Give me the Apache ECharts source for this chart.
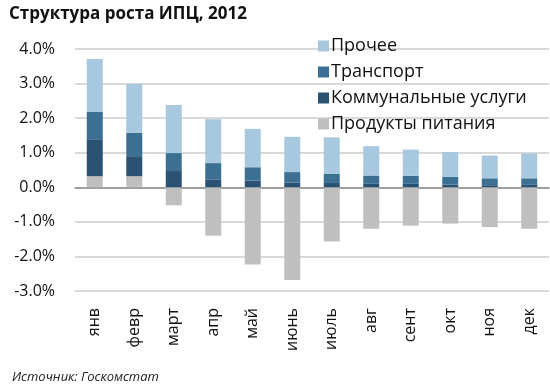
<!DOCTYPE html>
<html><head><meta charset="utf-8">
<script src="https://cdn.jsdelivr.net/npm/echarts@6/dist/echarts.min.js"></script>
<style>html,body{margin:0;padding:0;background:#fff}#c{width:550px;height:391px}</style>
</head><body><div id="c"></div>
<script>
const categories = ['янв','февр','март','апр','май','июнь','июль','авг','сент','окт','ноя','дек'];
const food      = [0.32, 0.32, -0.52, -1.40, -2.23, -2.68, -1.57, -1.20, -1.11, -1.05, -1.15, -1.20];
const communal  = [1.07, 0.58, 0.47, 0.23, 0.19, 0.14, 0.125, 0.10, 0.10, 0.08, 0.06, 0.07];
const transport = [0.79, 0.68, 0.52, 0.47, 0.39, 0.30, 0.27, 0.24, 0.23, 0.22, 0.20, 0.19];
const other     = [1.53, 1.41, 1.39, 1.27, 1.11, 1.02, 1.05, 0.85, 0.76, 0.72, 0.66, 0.72];
const yTicks = [-3, -2, -1, 0, 1, 2, 3, 4];
const names = ['Продукты питания','Коммунальные услуги','Транспорт','Прочее'];
const colors = ['#bfbfbf','#2c5273','#3c7093','#a7c8de'];
const FONT = '"Open Sans", Lato, sans-serif';

const chart = echarts.init(document.getElementById('c'), null, {renderer:'canvas'});
const mk = (name, data, color) => ({
  name, type:'bar', stack:'s', data, barWidth:16,
  itemStyle:{color}, emphasis:{disabled:true}
});
chart.setOption({
  animation:false,
  title:{text:'Структура роста ИПЦ, 2012', left:4, top:1,
    textStyle:{fontFamily:FONT, fontSize:17, fontWeight:'bold', color:'#111'}},
  graphic:[{type:'text', left:12, top:371,
    style:{text:'Источник: Госкомстат', font:'italic 13px '+FONT, fill:'#222'}}],
  legend:{
    data:[names[3],names[2],names[1],names[0]],
    orient:'vertical', left:313, top:32, itemGap:8, itemWidth:11, itemHeight:11,
    icon:'rect',
    textStyle:{fontFamily:FONT, fontSize:18, color:'#111', padding:[0,0,0,-3]}
  },
  grid:{left:75, right:1, top:49, bottom:100, containLabel:false},
  xAxis:{type:'category', data:categories,
    axisLine:{show:true, onZero:true, lineStyle:{color:'#8a8a8a', width:1.5}},
    axisTick:{show:false},
    axisLabel:{rotate:90, margin:17, fontFamily:FONT, fontSize:16, color:'#111', interval:0}},
  yAxis:{type:'value', min:yTicks[0], max:yTicks[yTicks.length-1], interval:1,
    axisLine:{show:false}, axisTick:{show:false},
    splitLine:{lineStyle:{color:'#cccccc', width:1.5}},
    axisLabel:{margin:20, fontFamily:FONT, fontSize:16, color:'#111',
      formatter:v=>v.toFixed(1)+'%'}},
  series:[
    mk(names[0], food, colors[0]),
    mk(names[1], communal, colors[1]),
    mk(names[2], transport, colors[2]),
    mk(names[3], other, colors[3])
  ]
});
</script></body></html>
